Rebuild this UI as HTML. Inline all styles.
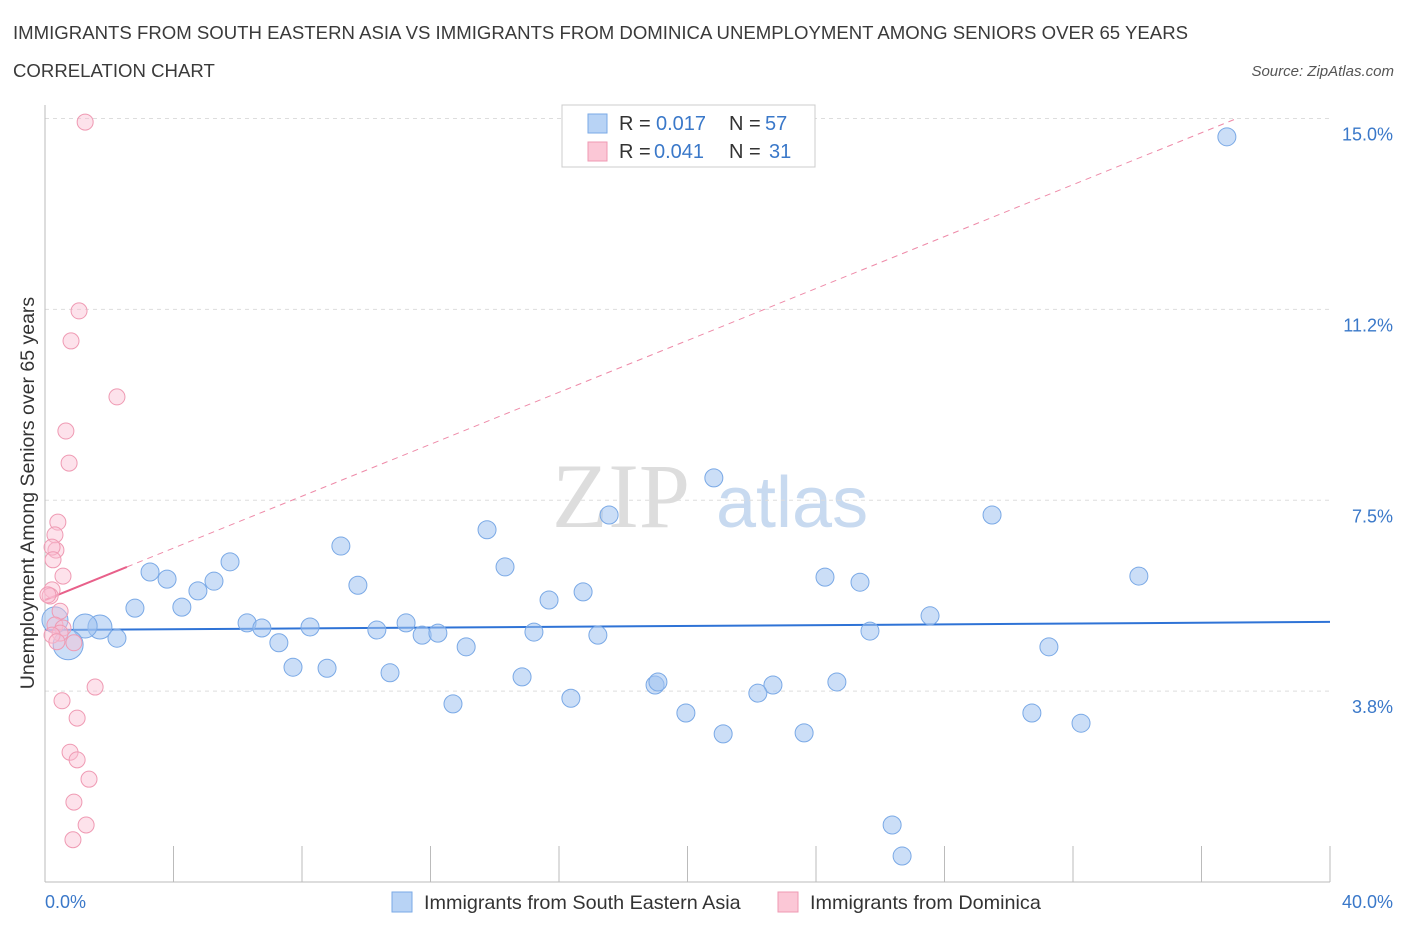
<!DOCTYPE html>
<html><head><meta charset="utf-8"><style>
body{margin:0;background:#fff;font-family:"Liberation Sans",sans-serif}
</style></head><body>
<svg width="1406" height="930" xmlns="http://www.w3.org/2000/svg" font-family="Liberation Sans, sans-serif">
<text x="13" y="39" font-size="18.6" fill="#3a3a3a">IMMIGRANTS FROM SOUTH EASTERN ASIA VS IMMIGRANTS FROM DOMINICA UNEMPLOYMENT AMONG SENIORS OVER 65 YEARS</text>
<text x="13" y="77" font-size="18.6" fill="#3a3a3a">CORRELATION CHART</text>
<text x="1394" y="76" font-size="15" font-style="italic" fill="#555" text-anchor="end">Source: ZipAtlas.com</text>
<text x="0" y="0" transform="translate(34,493) rotate(-90)" font-size="19.5" fill="#333" text-anchor="middle">Unemployment Among Seniors over 65 years</text>
<g><text x="552" y="527" font-size="92" font-family="Liberation Serif, serif" fill="#ddd">ZIP</text><text x="716" y="527" font-size="72" fill="#c8daf0">atlas</text></g>
<g id="grid"></g><g id="axes"></g><g id="trend"></g><g id="pts"></g>
<g>
<rect x="562" y="105" width="253" height="62" fill="#fff" stroke="#ccc"/>
<rect x="588" y="114" width="19" height="19" fill="#b8d3f5" stroke="#7aa9e6"/>
<rect x="588" y="142" width="19" height="19" fill="#fbc7d6" stroke="#ef9ab3"/>
<text x="619" y="130" font-size="20" fill="#333">R =</text><text x="656" y="130" font-size="20" fill="#3a78c9">0.017</text>
<text x="729" y="130" font-size="20" fill="#333">N =</text><text x="765" y="130" font-size="20" fill="#3a78c9">57</text>
<text x="619" y="158" font-size="20" fill="#333">R =</text><text x="654" y="158" font-size="20" fill="#3a78c9">0.041</text>
<text x="729" y="158" font-size="20" fill="#333">N =</text><text x="769" y="158" font-size="20" fill="#3a78c9">31</text>
</g>
<g>
<rect x="392" y="892" width="20" height="20" fill="#b8d3f5" stroke="#7aa9e6"/>
<text x="424" y="909" font-size="19.8" fill="#333">Immigrants from South Eastern Asia</text>
<rect x="778" y="892" width="20" height="20" fill="#fbc7d6" stroke="#ef9ab3"/>
<text x="810" y="909" font-size="19.8" fill="#333">Immigrants from Dominica</text>
</g>
</svg>
<script>
const blueX=[36.79,20.82,17.56,29.48,13.76,9.21,5.76,3.27,3.80,14.32,5.26,4.76,9.74,24.28,25.37,34.05,2.80,4.26,15.69,16.75,27.55,6.29,6.75,8.25,10.33,11.24,11.74,12.23,15.22,17.21,25.68,1.71,1.25,2.24,0.72,0.31,7.28,13.11,31.25,7.72,8.78,10.74,14.85,18.99,19.08,22.66,22.19,24.65,12.70,16.37,19.95,30.72,32.25,21.11,23.63,26.37,26.68];
const blueY=[14.64,7.94,7.21,7.21,6.92,6.60,6.29,6.09,5.95,6.19,5.91,5.72,5.83,5.99,5.89,6.01,5.38,5.40,5.54,5.70,5.23,5.09,4.99,5.01,4.95,5.09,4.85,4.89,4.91,4.85,4.93,5.01,5.03,4.79,4.66,5.15,4.70,4.62,4.62,4.22,4.20,4.11,4.03,3.87,3.93,3.87,3.71,3.93,3.50,3.61,3.32,3.32,3.12,2.91,2.93,1.12,0.51];
const pinkX=[1.25,1.06,0.81,2.24,0.65,0.75,0.40,0.31,0.34,0.22,0.25,0.56,0.22,0.16,0.47,0.31,0.56,0.47,0.22,0.90,0.53,1.00,0.78,1.00,1.37,0.90,1.28,0.87,1.56,0.09,0.37];
const pinkY=[14.93,11.22,10.63,9.53,8.86,8.23,7.07,6.82,6.52,6.58,6.33,6.01,5.74,5.62,5.32,5.05,4.99,4.89,4.85,4.70,3.56,3.22,2.55,2.40,2.02,1.57,1.12,0.83,3.83,5.64,4.72];
const yTicks=[3.75,7.5,11.25,15];
const yTickLabels=["3.8%","7.5%","11.2%","15.0%"];
const blueTrend=[4.95,5.11];
const pinkTrend=[5.54,0.255];
const NS="http://www.w3.org/2000/svg";
const X=v=>45+v*32.125, Y=v=>882-v*50.9;
function mk(t,a,p){const e=document.createElementNS(NS,t);for(const k in a)e.setAttribute(k,a[k]);document.getElementById(p).appendChild(e);return e;}
yTicks.forEach((t,i)=>{
 const g=mk('line',{x1:45,x2:1330,y1:Y(t),y2:Y(t),stroke:'#ddd','stroke-dasharray':'4,4'},'grid');
 
 
 const l=mk('text',{x:1393,y:Y(t)+22,'font-size':18,fill:'#3a78c9','text-anchor':'end'},'axes');
 l.textContent=yTickLabels[i];
 
 
});
let a=mk('line',{x1:45,x2:1330,y1:882,y2:882,stroke:'#bbb'},'axes');


a=mk('line',{x1:45,x2:45,y1:105,y2:882,stroke:'#bbb'},'axes');


for(let i=0;i<=10;i++){const t=mk('line',{x1:X(i*4),x2:X(i*4),y1:846,y2:882,stroke:'#bbb'},'axes');
 
 }
let t=mk('text',{x:45,y:908,'font-size':18,fill:'#3a78c9'},'axes');t.textContent='0.0%';


t=mk('text',{x:1393,y:908,'font-size':18,fill:'#3a78c9','text-anchor':'end'},'axes');t.textContent='40.0%';


blueX.forEach((x,i)=>{
 const big={34:15,35:13,32:12,31:12}[i]||9;
 const c=mk('circle',{cx:X(x),cy:Y(blueY[i]),r:big,fill:'rgba(160,195,240,0.55)',stroke:'#7aa9e6','stroke-width':1},'pts');
 
 
});
pinkX.forEach((x,i)=>{
 const c=mk('circle',{cx:X(x),cy:Y(pinkY[i]),r:8,fill:'rgba(250,190,210,0.45)',stroke:'#ef9ab3','stroke-width':1},'pts');
 
 
});
let l=mk('line',{x1:X(0),x2:X(40),y1:Y(blueTrend[0]),y2:Y(blueTrend[1]),stroke:'#2f73d6','stroke-width':2},'trend');


const xe=(15-pinkTrend[0])/pinkTrend[1];
l=mk('line',{x1:X(2.55),x2:X(xe),y1:Y(pinkTrend[0]+pinkTrend[1]*2.55),y2:Y(15),stroke:'#ee8aa8','stroke-width':1,'stroke-dasharray':'6,5'},'trend');


l=mk('line',{x1:X(0),x2:X(2.55),y1:Y(pinkTrend[0]),y2:Y(pinkTrend[0]+pinkTrend[1]*2.55),stroke:'#e8608a','stroke-width':2},'trend');


</script>
</body></html>
